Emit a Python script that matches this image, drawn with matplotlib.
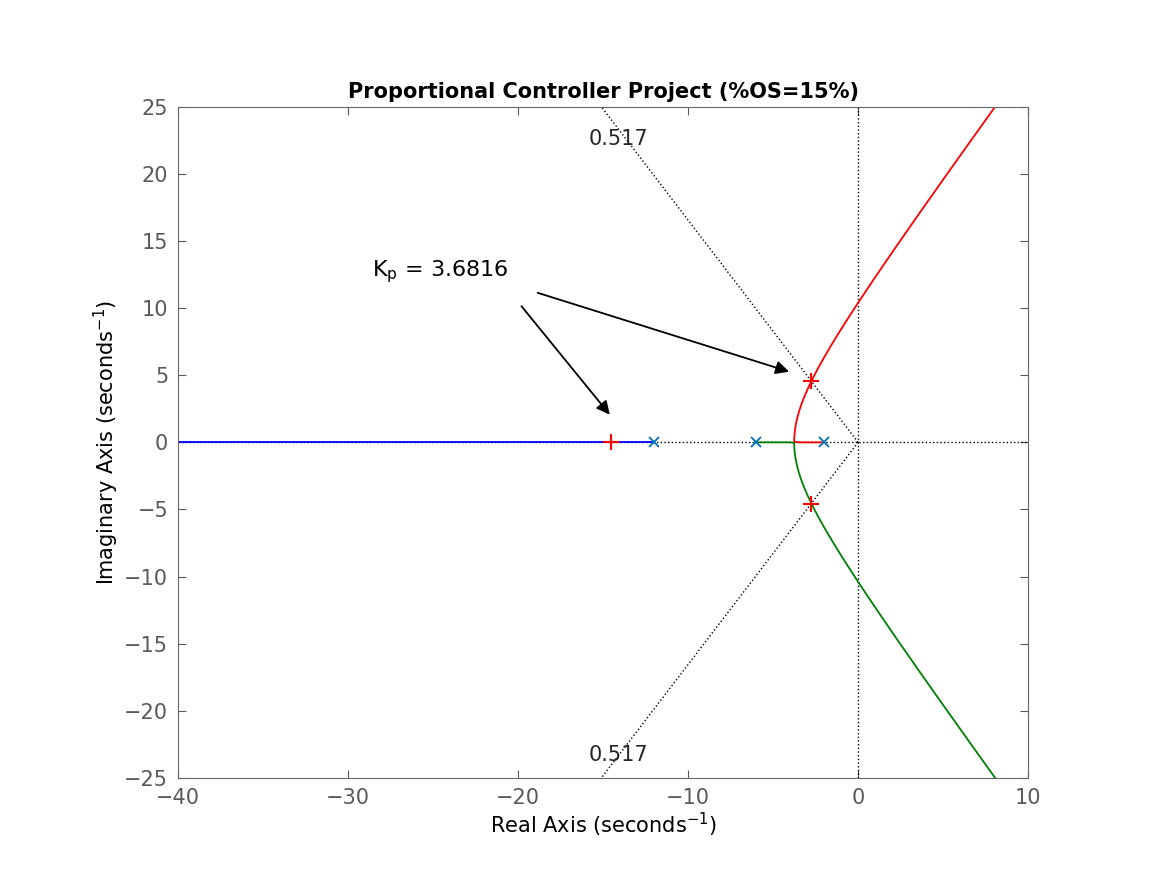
import numpy as np
import matplotlib
matplotlib.use("Agg")
import matplotlib.pyplot as plt

# open-loop poles and design data
poles = [-2.0, -6.0, -12.0]
zeta = 0.517
K_design = 267.0          # closed-loop gain giving the design points
gains = list(np.linspace(0, 32.5, 60)) + list(np.geomspace(32.6, 30000, 400))
K_break = 32.5

den = np.poly(poles)

def roots_for(K):
    c = den.copy(); c[-1] += K
    return np.roots(c)

blue, red, green = [], [], []
for K in gains:
    r = roots_for(K)
    r = sorted(r, key=lambda z: z.real)
    far = r[0]; others = r[1:]
    blue.append(far)
    a, b = others
    if abs(a.imag) < 1e-9 and abs(b.imag) < 1e-9:
        hi, lo = (a, b) if a.real > b.real else (b, a)
        red.append(hi); green.append(lo)
    else:
        up, dn = (a, b) if a.imag > 0 else (b, a)
        red.append(up); green.append(dn)
blue = np.array(blue + [-40 + 0j]); red = np.array(red); green = np.array(green)

fig = plt.figure(figsize=(11.67, 8.75), dpi=100)
ax = fig.add_axes([0.1525, 0.111, 0.7285, 0.767])

ax.axhline(0, color='k', ls=':', lw=1)
ax.axvline(0, color='k', ls=':', lw=1)
th = np.arccos(zeta)
ys = np.array([0, 40])
ax.plot(-ys / np.tan(th), ys, 'k:', lw=1)
ax.plot(-ys / np.tan(th), -ys, 'k:', lw=1)
ax.text(-14.1, 22.6, '0.517', fontsize=15, ha='center', va='center', color='0.15')
ax.text(-14.1, -23.3, '0.517', fontsize=15, ha='center', va='center', color='0.15')

ax.plot(blue.real, blue.imag, color='blue', lw=1.3)
ax.plot(red.real, red.imag, color='red', lw=1.3)
ax.plot(green.real, green.imag, color='green', lw=1.3)

ax.plot(np.array(poles), np.zeros(3), 'x', color=(0, 0.447, 0.741), ms=7, mew=1.3)
cl = roots_for(K_design)
ax.plot(cl.real, cl.imag, '+', color='red', ms=11, mew=1.5)

ax.text(-24.6, 12.7, r'K$_\mathrm{p}$ = 3.6816', fontsize=16, ha='center', va='center')
ax.annotate('', xy=(-14.5, 1.9), xytext=(-19.9, 10.3),
            arrowprops=dict(arrowstyle='-|>', color='k', lw=1.3, mutation_scale=20))
ax.annotate('', xy=(-3.9, 5.2), xytext=(-19.0, 11.2),
            arrowprops=dict(arrowstyle='-|>', color='k', lw=1.3, mutation_scale=20))

ax.set_xlim(-40, 10); ax.set_ylim(-25, 25)
ax.set_xticks(np.arange(-40, 11, 10)); ax.set_yticks(np.arange(-25, 26, 5))
ax.tick_params(direction='in', top=True, right=True, labelsize=15, colors='0.35', length=6, pad=7)
for lab in ax.get_xticklabels() + ax.get_yticklabels():
    lab.set_color('0.35')
for s in ax.spines.values():
    s.set_color('0.4')
ax.set_xlabel(r'Real Axis (seconds$^{-1}$)', fontsize=15, labelpad=2)
ax.set_ylabel(r'Imaginary Axis (seconds$^{-1}$)', fontsize=15, labelpad=2)
ax.set_title('Proportional Controller Project (%OS=15%)', fontsize=15, fontweight='bold')
fig.savefig('out.png', dpi=100)
